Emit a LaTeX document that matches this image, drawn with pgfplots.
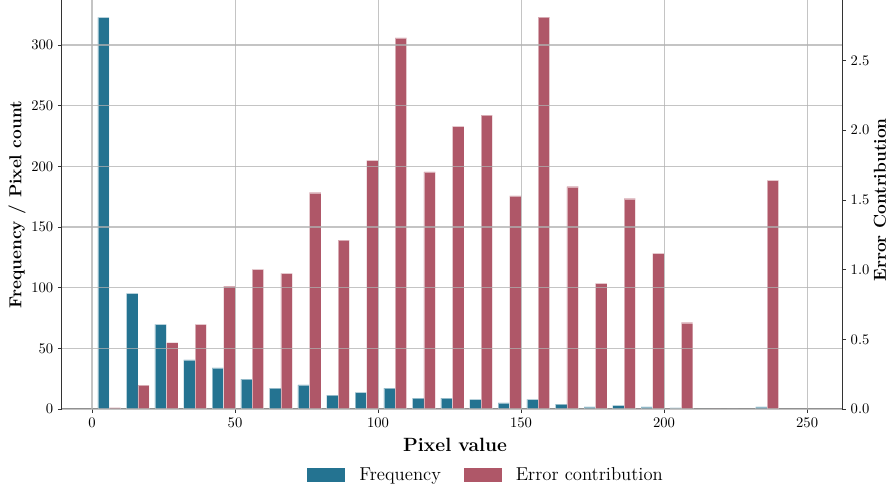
\documentclass[border=0pt]{standalone}
\usepackage{pgfplots}
\pgfplotsset{compat=1.18}
\definecolor{cblue}{RGB}{36,115,145}
\definecolor{cred}{RGB}{175,87,104}
\definecolor{cgrid}{RGB}{176,176,176}
\begin{document}
\begin{tikzpicture}
\pgfplotsset{
  common/.style={
    scale only axis, width=585pt, height=306.75pt,
    xmin=-10.5, xmax=262.2,
    tick align=outside, major tick length=3pt,
    tick style={black!80, line width=0.6pt},
    axis line style={black!80, line width=0.75pt},
    ticklabel style={font=\fontsize{10.5}{12}\selectfont},
  },
}
% frequency
\begin{axis}[common,
  axis x line*=bottom, axis y line*=left,
  ymin=0, ymax=337.1,
  xtick={0,50,100,150,200,250},
  ytick={0,50,100,150,200,250,300},
  xlabel={Pixel value},
  xlabel style={font=\fontsize{14.4}{16}\selectfont\bfseries, at={(axis description cs:0.504,-0.088)}, anchor=center},
  ylabel={Frequency / Pixel count},
  ylabel style={font=\fontsize{13}{15}\selectfont\bfseries, at={(axis description cs:-0.0577,0.5)}, anchor=center},
]
\addplot[ybar, bar width=4, bar shift=0pt, fill=cblue, draw=white, draw opacity=0.5, line width=0.3pt] coordinates {
(4,322.8) (14,95.3) (24,69.8) (34,40.4) (44,33.8) (54,24.7) (64,17.3) (74,19.8)
(84,11.5) (94,13.7) (104,17.3) (114,9) (124,9) (134,8) (144,5) (154,8)
(164,4) (174,1.7) (184,3) (194,1.7) (204,1) (214,0) (224,0) (234,1.7)
};
\end{axis}
% error contribution
\begin{axis}[common,
  axis x line=none, axis y line*=right,
  ymin=0, ymax=2.935,
  ytick={0,0.5,1,1.5,2,2.5},
  yticklabel style={/pgf/number format/.cd, fixed, fixed zerofill, precision=1},
  ylabel={Error Contribution},
  ylabel style={font=\fontsize{13}{15}\selectfont\bfseries, at={(axis description cs:1.0487,0.511)}, anchor=center},
  legend style={draw=none, fill=none, at={(axis description cs:0.544,-0.161)}, anchor=center,
    legend columns=2, font=\fontsize{14}{16}\selectfont,
    /tikz/every even column/.append style={column sep=15pt}},
  legend image code/.code={\draw[#1, draw=none] (0pt,-5pt) rectangle (28.5pt,5pt); \path (37pt,0pt);},
]
\addlegendimage{fill=cblue}
\addlegendentry{Frequency}
\addplot[ybar, bar width=4, bar shift=0pt, fill=cred, draw=white, draw opacity=0.5, line width=0.3pt] coordinates {
(8,0.01) (18,0.172) (28,0.476) (38,0.607) (48,0.882) (58,1.002) (68,0.973) (78,1.552)
(88,1.212) (98,1.784) (108,2.664) (118,1.702) (128,2.028) (138,2.109) (148,1.530) (158,2.812)
(168,1.595) (178,0.902) (188,1.509) (198,1.117) (208,0.619) (218,0) (224,0) (238,1.641)
};
\addlegendentry{Error contribution}
\end{axis}
% grid overlay
\begin{axis}[common,
  ymin=0, ymax=337.1,
  xtick={0,50,100,150,200,250},
  ytick={0,50,100,150,200,250,300},
  xticklabels={}, yticklabels={},
  tick style={draw=none}, axis line style={draw=none},
  xmajorgrids, ymajorgrids,
  grid style={cgrid, line width=0.8pt, opacity=0.75},
]
\end{axis}
\pgfresetboundingbox
\useasboundingbox (-46.5pt,-61.5pt) rectangle (620.25pt,306.75pt);
\end{tikzpicture}
\end{document}
